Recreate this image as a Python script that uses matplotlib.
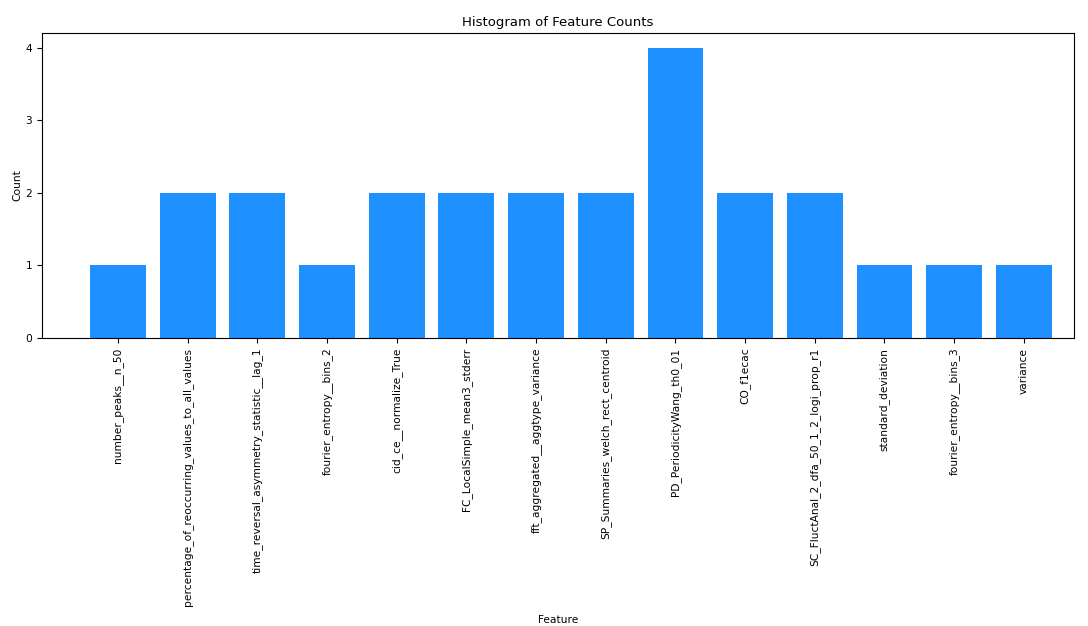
import matplotlib.pyplot as plt

features = [
    "number_peaks__n_50",
    "percentage_of_reoccurring_values_to_all_values",
    "time_reversal_asymmetry_statistic__lag_1",
    "fourier_entropy__bins_2",
    "cid_ce__normalize_True",
    "FC_LocalSimple_mean3_stderr",
    "fft_aggregated__aggtype_variance",
    "SP_Summaries_welch_rect_centroid",
    "PD_PeriodicityWang_th0_01",
    "CO_f1ecac",
    "SC_FluctAnal_2_dfa_50_1_2_logi_prop_r1",
    "standard_deviation",
    "fourier_entropy__bins_3",
    "variance",
]
counts = [1, 2, 2, 1, 2, 2, 2, 2, 4, 2, 2, 1, 1, 1]

fig = plt.figure(figsize=(10.88, 6.26), dpi=100)
ax = fig.add_axes([0.0386, 0.4601, 0.9485, 0.4872])

ax.bar(features, counts, color="dodgerblue", width=0.8)
ax.set_xlim(-1.09, 13.72)
ax.set_ylim(0, 4.2)
ax.set_yticks([0, 1, 2, 3, 4])
ax.tick_params(axis="x", labelrotation=90, labelsize=7.7)
ax.tick_params(axis="y", labelsize=7.7)
ax.set_title("Histogram of Feature Counts", fontsize=9.5, pad=5)
ax.set_xlabel("Feature", fontsize=7.7, labelpad=7)
ax.set_ylabel("Count", fontsize=7.7, labelpad=2)

fig.savefig("out.png", dpi=100)
